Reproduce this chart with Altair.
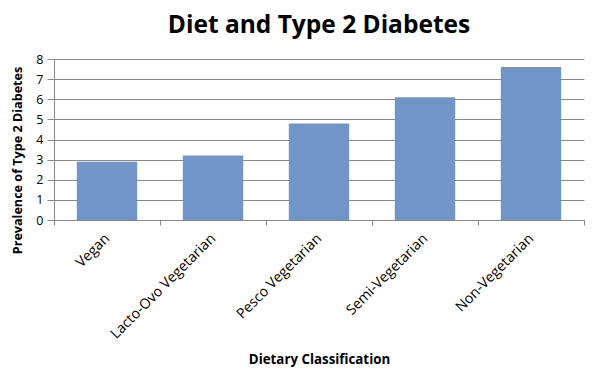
import altair as alt
import pandas as pd

categories = ["Vegan", "Lacto-Ovo Vegetarian", "Pesco Vegetarian", "Semi-Vegetarian", "Non-Vegetarian"]
values = [2.9, 3.2, 4.8, 6.1, 7.6]

df = pd.DataFrame({"diet": categories, "prev": values})

FONT = "Open Sans"

chart = alt.Chart(df).mark_bar(color="#7195C9", width=alt.RelativeBandSize(0.57)).encode(
    x=alt.X("diet:N", sort=categories,
            scale=alt.Scale(paddingInner=0, paddingOuter=0),
            axis=alt.Axis(title="Dietary Classification", labelAngle=-45, labelAlign="right",
                          labelBaseline="middle", labelFontSize=14.2, labelColor="#000",
                          labelFont=FONT, titleFont=FONT, titleFontSize=13.3, titleFontWeight="bold",
                          titleColor="#000", tickBand="extent", domainColor="#888", tickColor="#888",
                          tickSize=5, labelPadding=11, titlePadding=11, grid=False)),
    y=alt.Y("prev:Q", scale=alt.Scale(domain=[0, 8], nice=False),
            axis=alt.Axis(title="Prevalence of Type 2 Diabetes", values=list(range(9)), tickCount=9,
                          labelFont=FONT, labelFontSize=12.5, labelColor="#000", titleFont=FONT,
                          titleFontSize=12.6, titleFontWeight="bold", titleColor="#000",
                          gridColor="#888", gridWidth=1, domainColor="#888", tickColor="#888",
                          tickSize=7, labelPadding=4, titlePadding=11, titleY=101)),
).properties(
    width=530, height=161,
    title=alt.TitleParams("Diet and Type 2 Diabetes", font=FONT, fontSize=24.5, fontWeight="bold",
                          color="#000", offset=15, anchor="middle"),
    padding={"left": 3, "top": 4, "right": 4, "bottom": 4},
).configure_view(stroke=None)

chart.save("out.html", embed_options={"renderer": "svg", "actions": False})
